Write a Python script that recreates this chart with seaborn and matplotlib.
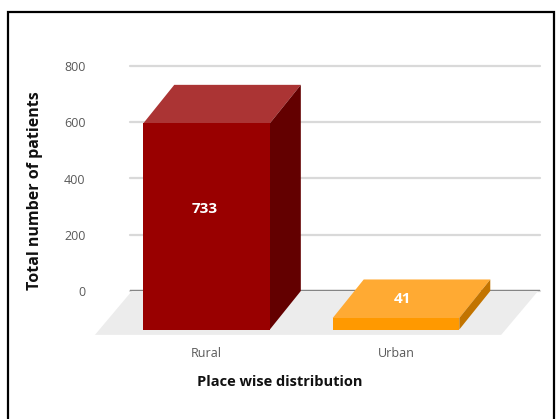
import numpy as np
import pandas as pd
import seaborn as sns
import matplotlib.pyplot as plt
from matplotlib.patches import Polygon, Rectangle

## data
places = ["Rural", "Urban"]
patients = [733, 41]
front_colors = ["#990000", "#ff9900"]
top_colors = ["#ab3434", "#ffaa33"]
side_colors = ["#630000", "#c27400"]
y_ticks = [0, 200, 400, 600, 800]

df = pd.DataFrame({"place": places, "patients": patients})

sns.set_theme(style="white")
plt.rcParams['font.family'] = ['Open Sans', 'DejaVu Sans']

fig = plt.figure(figsize=(5.58, 4.19), dpi=100)
# axes = back wall of the 3d chart
ax = fig.add_axes([130/558, 128/419, 410/558, 225/419])

sns.barplot(data=df, x="place", y="patients", hue="place", palette=front_colors,
            legend=False, width=0.668, ax=ax, saturation=1)

ax.set_xlim(-0.404, 1.760)
ax.set_ylim(0, 800)
ax.set_yticks(y_ticks)
ax.set_axisbelow(True)
ax.yaxis.grid(True, color="#d9d9d9", lw=1.6)
for gl in ax.get_ygridlines():
    gl.set_clip_on(False)
ax.axhline(0, color="#858585", lw=1.7, zorder=1.5)
sns.despine(ax=ax, left=True, bottom=True)

# depth of the 3d look, in data units
dx, dy = 0.1636, 137
floor_dx, floor_dy = 0.195, 156

x0, x1 = ax.get_xlim()
floor = Polygon([(x0 + 0.01, 0), (x1 - 0.01, 0), (x1 - 0.01 - floor_dx, -floor_dy),
                 (x0 + 0.01 - floor_dx, -floor_dy)], closed=True,
                facecolor="#ececec", edgecolor="none", zorder=1, clip_on=False)
ax.add_patch(floor)

for i, p in enumerate(ax.patches[:len(patients)]):
    # move bar forward (down) so it becomes the front face
    p.set_y(p.get_y() - dy)
    p.set_zorder(3)
    p.set_clip_on(False)
    p.set_edgecolor("none")
    bx, by, bw, bh = p.get_x(), p.get_y(), p.get_width(), p.get_height()
    top = Polygon([(bx, by + bh), (bx + bw, by + bh), (bx + bw + dx, by + bh + dy),
                   (bx + dx, by + bh + dy)], closed=True,
                  facecolor=top_colors[i], edgecolor="none", zorder=2, clip_on=False)
    side = Polygon([(bx + bw, by), (bx + bw + dx, by + dy), (bx + bw + dx, by + bh + dy),
                    (bx + bw, by + bh)], closed=True,
                   facecolor=side_colors[i], edgecolor="none", zorder=2, clip_on=False)
    ax.add_patch(top)
    ax.add_patch(side)
    # label in the middle of the bar, on the top face for flat bars
    if bh > dy:
        ly = (by + bh + dy + by) / 2 - 8
        lx = bx + bw / 2 - 0.01
    else:
        ly = by + bh + dy / 2
        lx = bx + bw / 2 + dx / 5
    ax.text(lx, ly, str(patients[i]), color="white", fontsize=11,
            fontweight="bold", ha="center", va="center", zorder=5)

ax.tick_params(axis="x", length=0, pad=40, labelsize=9, labelcolor="#595959")
ax.tick_params(axis="y", length=0, pad=32, labelsize=9, labelcolor="#595959")

ax.set_xlabel("Place wise distribution", fontsize=10.5, fontweight="bold", color="#111111")
ax.set_ylabel("Total number of patients", fontsize=11.5, fontweight="bold", color="#111111")
ax.xaxis.set_label_coords(0.366, -0.372)
ax.yaxis.set_label_coords(-0.213, 0.444)

# outer frame of the picture
fig.add_artist(Rectangle((7.5/558, -0.05), (554 - 7.5)/558, (419 - 12)/419 + 0.05,
                         transform=fig.transFigure, fill=False, lw=1.6, ec="black"))

plt.savefig("out.png", dpi=100)
